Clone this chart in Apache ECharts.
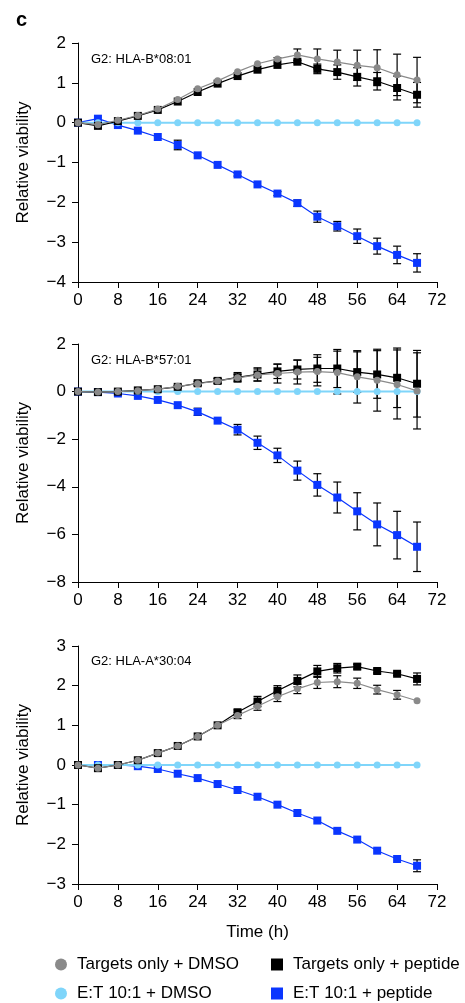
<!DOCTYPE html>
<html>
<head>
<meta charset="utf-8">
<script src="https://cdn.jsdelivr.net/npm/echarts@6/dist/echarts.min.js"></script>
<style>
html,body{margin:0;padding:0;background:#fff;}
#chart{width:465px;height:1003px;}
</style>
</head>
<body>
<div id="chart"></div>
<script>
// ---------- DATA ----------
const hours = [0,4,8,12,16,20,24,28,32,36,40,44,48,52,56,60,64,68];
const xTicks = [0,8,16,24,32,40,48,56,64,72];
const panelTitles = ['G2: HLA-B*08:01','G2: HLA-B*57:01','G2: HLA-A*30:04'];
const seriesNames = ['Targets only + DMSO','Targets only + peptide','E:T 10:1 + DMSO','E:T 10:1 + peptide'];

// Panel 1: HLA-B*08:01
const p1_targetsDMSO    = [0,-0.05,0.06,0.18,0.34,0.58,0.85,1.05,1.28,1.48,1.6,1.7,1.6,1.52,1.44,1.38,1.2,1.07];
const p1_targetsDMSOErr = [0,0,0,0,0,0,0,0,0,0,0.03,0.15,0.25,0.3,0.38,0.45,0.52,0.57];
const p1_targetsPep     = [0,-0.08,0.04,0.17,0.32,0.53,0.77,0.98,1.17,1.33,1.45,1.53,1.35,1.27,1.15,1.04,0.87,0.7];
const p1_targetsPepErr  = [0,0,0,0,0,0,0,0,0,0,0,0.04,0.12,0.18,0.23,0.22,0.3,0.31];
const p1_etDMSO         = [0,0,0,0,0,0,0,0,0,0,0,0,0,0,0,0,0,0];
const p1_etPep          = [0,0.1,-0.06,-0.2,-0.36,-0.56,-0.82,-1.06,-1.3,-1.55,-1.78,-2.02,-2.36,-2.6,-2.85,-3.1,-3.32,-3.52];
const p1_etPepErr       = [0,0,0,0,0,0.12,0,0,0.04,0,0.05,0.08,0.14,0.12,0.18,0.2,0.22,0.23];

// Panel 2: HLA-B*57:01
const p2_targetsDMSO    = [0,-0.02,0,0.04,0.1,0.22,0.33,0.45,0.58,0.7,0.76,0.82,0.84,0.8,0.62,0.48,0.3,0.03];
const p2_targetsDMSOErr = [0,0,0,0,0,0.05,0.08,0.1,0.15,0.25,0.4,0.5,0.6,0.9,1.1,1.3,1.45,1.6];
const p2_targetsPep     = [0,-0.02,0,0.05,0.1,0.2,0.35,0.45,0.6,0.72,0.85,0.93,0.97,0.97,0.82,0.72,0.58,0.33];
const p2_targetsPepErr  = [0,0,0,0,0,0.05,0.08,0.1,0.2,0.28,0.3,0.4,0.58,0.8,0.85,1.0,1.25,1.4];
const p2_etDMSO         = [0,0,0,0,0,0,0,0,0,0,0,0,0,0,0,0,0,0];
const p2_etPep          = [0,-0.02,-0.08,-0.18,-0.35,-0.57,-0.85,-1.22,-1.6,-2.15,-2.68,-3.32,-3.92,-4.45,-5.03,-5.58,-6.03,-6.52];
const p2_etPepErr       = [0,0,0,0,0,0,0.15,0,0.22,0.28,0.3,0.4,0.47,0.65,0.78,0.9,1.0,1.04];

// Panel 3: HLA-A*30:04
const p3_targetsDMSO    = [0,-0.08,0,0.12,0.3,0.48,0.72,1.0,1.25,1.48,1.72,1.92,2.08,2.1,2.06,1.9,1.77,1.62];
const p3_targetsDMSOErr = [0,0,0,0,0,0,0,0,0.08,0.1,0.12,0.12,0.15,0.15,0.13,0.11,0.11,0];
const p3_targetsPep     = [0,-0.08,0,0.12,0.3,0.48,0.72,1.0,1.33,1.6,1.87,2.12,2.36,2.44,2.48,2.37,2.3,2.17];
const p3_targetsPepErr  = [0,0,0,0,0,0,0,0,0.06,0.13,0.13,0.15,0.15,0.12,0.06,0.05,0.04,0.15];
const p3_etDMSO         = [0,0,0,0,0,0,0,0,0,0,0,0,0,0,0,0,0,0];
const p3_etPep          = [0,0,0,-0.03,-0.1,-0.22,-0.33,-0.48,-0.63,-0.8,-1.0,-1.21,-1.4,-1.66,-1.88,-2.16,-2.37,-2.54];
const p3_etPepErr       = [0,0,0,0,0,0,0,0,0,0,0,0,0,0,0,0,0,0.15];

const yRanges = [[-4,2,1],[-8,2,2],[-3,3,1]];

// ---------- STYLE / LAYOUT ----------
const FONT = '"Liberation Sans", Arial, Helvetica, sans-serif';
const COL = {gray:'#8a8a8a', black:'#000000', cyan:'#7fd5fa', blue:'#0a36ff'};
const grids = [
  {left:78, right:28, top:43, height:239},
  {left:78, right:28, top:344, height:238},
  {left:78, right:28, top:646, height:238}
];

const panels = [
  {tD:p1_targetsDMSO,tDe:p1_targetsDMSOErr,tP:p1_targetsPep,tPe:p1_targetsPepErr,eD:p1_etDMSO,eP:p1_etPep,ePe:p1_etPepErr},
  {tD:p2_targetsDMSO,tDe:p2_targetsDMSOErr,tP:p2_targetsPep,tPe:p2_targetsPepErr,eD:p2_etDMSO,eP:p2_etPep,ePe:p2_etPepErr},
  {tD:p3_targetsDMSO,tDe:p3_targetsDMSOErr,tP:p3_targetsPep,tPe:p3_targetsPepErr,eD:p3_etDMSO,eP:p3_etPep,ePe:p3_etPepErr}
];

const pair = (ys) => hours.map((h,i)=>[h, ys[i]]);
const errData = (ys, es) => hours.map((h,i)=>[h, ys[i], es[i]]).filter(d=>d[2]>0);

function errRender(params, api){
  const x = api.value(0), y = api.value(1), e = api.value(2);
  const top = api.coord([x, y+e]);
  const bot = api.coord([x, y-e]);
  const hw = 4;
  const st = {stroke:'#000', lineWidth:1.2};
  return {type:'group', children:[
    {type:'line', shape:{x1:top[0],y1:top[1],x2:bot[0],y2:bot[1]}, style:st},
    {type:'line', shape:{x1:top[0]-hw,y1:top[1],x2:top[0]+hw,y2:top[1]}, style:st},
    {type:'line', shape:{x1:bot[0]-hw,y1:bot[1],x2:bot[0]+hw,y2:bot[1]}, style:st}
  ]};
}

const xAxes = [], yAxes = [], series = [];
panels.forEach((p, k) => {
  xAxes.push({
    gridIndex:k, type:'value', min:0, max:72, interval:8,
    axisLine:{show:true, onZero:false, lineStyle:{color:'#000', width:1}},
    axisTick:{show:true, length:6, lineStyle:{color:'#000'}},
    axisLabel:{color:'#000', fontSize:17, fontFamily:FONT, margin:10,
      customValues: xTicks, formatter: v => String(v)},
    splitLine:{show:false},
    name: k===2 ? 'Time (h)' : '',
    nameLocation:'middle', nameGap:40,
    nameTextStyle:{color:'#000', fontSize:17, fontFamily:FONT}
  });
  const r = yRanges[k];
  yAxes.push({
    gridIndex:k, type:'value', min:r[0], max:r[1], interval:r[2],
    axisLine:{show:true, lineStyle:{color:'#000', width:1}},
    axisTick:{show:true, length:6, lineStyle:{color:'#000'}},
    axisLabel:{color:'#000', fontSize:17, fontFamily:FONT, margin:12,
      formatter: v => String(v).replace('-', '\u2212')},
    splitLine:{show:false},
    name:'Relative viability', nameLocation:'middle', nameGap:46, nameRotate:90,
    nameTextStyle:{color:'#000', fontSize:17, fontFamily:FONT}
  });
  // error bars (behind markers)
  [[p.eP,p.ePe],[p.tP,p.tPe],[p.tD,p.tDe]].forEach(([ys,es]) => {
    series.push({type:'custom', xAxisIndex:k, yAxisIndex:k, renderItem:errRender,
      data:errData(ys,es), z:1, silent:true, clip:false});
  });
  series.push({name:seriesNames[3], type:'line', xAxisIndex:k, yAxisIndex:k, data:pair(p.eP),
    symbol:'rect', symbolSize:8, showAllSymbol:true, itemStyle:{color:COL.blue},
    lineStyle:{color:COL.blue, width:1.2}, z:2, animation:false});
  series.push({name:seriesNames[2], type:'line', xAxisIndex:k, yAxisIndex:k, data:pair(p.eD),
    symbol:'circle', symbolSize:7, showAllSymbol:true, itemStyle:{color:COL.cyan},
    lineStyle:{color:COL.cyan, width:2}, z:3, animation:false});
  series.push({name:seriesNames[1], type:'line', xAxisIndex:k, yAxisIndex:k, data:pair(p.tP),
    symbol:'rect', symbolSize:8, showAllSymbol:true, itemStyle:{color:COL.black},
    lineStyle:{color:COL.black, width:1.2}, z:4, animation:false});
  series.push({name:seriesNames[0], type:'line', xAxisIndex:k, yAxisIndex:k, data:pair(p.tD),
    symbol:'circle', symbolSize:7, showAllSymbol:true, itemStyle:{color:COL.gray},
    lineStyle:{color:COL.gray, width:1.2}, z:5, animation:false});
});

const titles = [{text:'c', left:11, top:5, textStyle:{fontSize:20, fontWeight:'bold', color:'#000', fontFamily:FONT}}];
const titleTops = [48, 349, 650];
panelTitles.forEach((t,k)=>titles.push({text:t, left:86, top:titleTops[k],
  textStyle:{fontSize:13, fontWeight:'normal', color:'#000', fontFamily:FONT}}));

const legendCommon = {itemWidth:12, itemHeight:12,
  textStyle:{fontSize:17, color:'#000', fontFamily:FONT, padding:[0,0,0,5]}, selectedMode:false};
const legendSpec = [
  {name:seriesNames[0], icon:'circle', left:50, top:951},
  {name:seriesNames[2], icon:'circle', left:50, top:980},
  {name:seriesNames[1], icon:'rect', left:266, top:951},
  {name:seriesNames[3], icon:'rect', left:266, top:980}
];

const option = {
  animation:false,
  backgroundColor:'#fff',
  title: titles,
  grid: grids,
  xAxis: xAxes,
  yAxis: yAxes,
  legend: legendSpec.map(s => Object.assign({left:s.left, top:s.top, data:[{name:s.name, icon:s.icon}]}, legendCommon)),
  series: series
};

const chart = echarts.init(document.getElementById('chart'), null, {renderer:'canvas'});
chart.setOption(option);
</script>
</body>
</html>
